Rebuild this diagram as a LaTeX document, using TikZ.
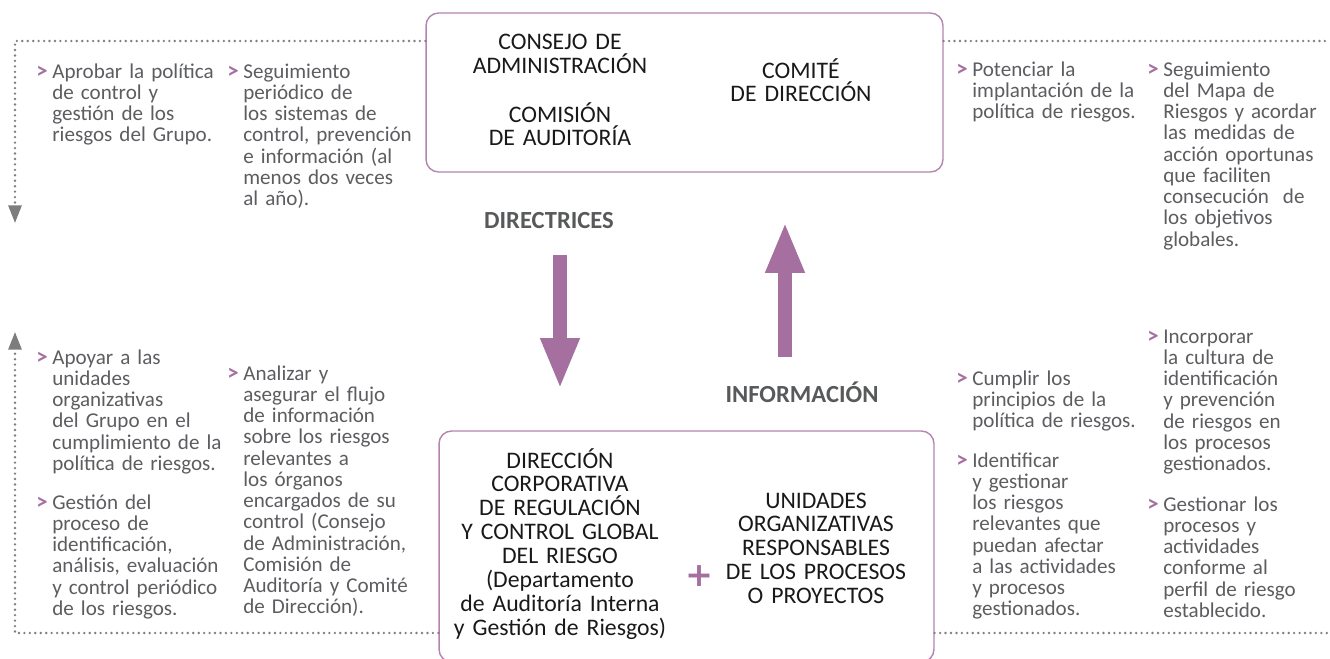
\documentclass[tikz,border=0pt]{standalone}
\usepackage{fontspec}
\setmainfont[WordSpace=0.8]{Carlito}
\newfontfamily\simbolo{DejaVu Sans}
\usetikzlibrary{arrows.meta}

\definecolor{lila}{RGB}{165,112,160}
\definecolor{lilaclaro}{RGB}{178,132,175}
\definecolor{gristxt}{RGB}{92,93,96}
\definecolor{grisetq}{RGB}{88,89,91}
\definecolor{grispunto}{RGB}{125,125,128}
\definecolor{negro}{RGB}{25,25,25}

\newcommand\vineta{\leavevmode\llap{\textcolor{lila}{\bfseries\fontsize{13}{10}\selectfont >}\hspace{2.6pt}}}

\begin{document}
\begin{tikzpicture}[x=0.02cm,y=-0.02cm,
    punteada/.style={draw=grispunto,line width=1.5pt,dash pattern=on 0pt off 3.1pt,line cap=round},
    puntaG/.style={-{Triangle[width=7.4pt,length=10pt]}},
    flechona/.style={draw=lila,line width=0.27cm,-{Triangle[width=0.72cm,length=1.02cm]}},
    etiqueta/.style={anchor=base,inner sep=0pt,text=grisetq,font=\bfseries\fontsize{14}{14}\selectfont}]
\useasboundingbox (0,0) rectangle (1330,659);

% cajas
\begin{scope}[every node/.style={draw=lilaclaro,line width=0.8pt,rounded corners=0.25cm,inner sep=0pt}]
    \node[minimum width=10.34cm,minimum height=3.18cm] (consejo) at (684.5,92.5) {};
    \node[minimum width=9.9cm,minimum height=4.62cm] (unidades) at (686.5,546.5) {};
\end{scope}

\begin{scope}[every node/.style={anchor=base,align=center,text width=5cm,inner sep=0pt,text=negro,font=\fontsize{13.5}{13.6}\selectfont}]
    \node (ca) at (560,50) {CONSEJO DE\\ADMINISTRACIÓN};
    \node (cau) at (560,122) {COMISIÓN\\DE AUDITORÍA};
    \node (cd) at (801,78) {COMITÉ\\DE DIRECCIÓN};
    \node (dc) at (560,468) {DIRECCIÓN\\CORPORATIVA\\DE REGULACIÓN\\Y CONTROL GLOBAL\\DEL RIESGO\\(Departamento\\de Auditoría Interna\\y Gestión de Riesgos)};
    \node (uo) at (816,508) {UNIDADES\\ORGANIZATIVAS\\RESPONSABLES\\DE LOS PROCESOS\\O PROYECTOS};
\end{scope}

\node[text=lila,inner sep=0pt,font=\simbolo\bfseries\fontsize{19}{19}\selectfont] (mas) at (699,576) {+};

% textos
\begin{scope}[every node/.style={anchor=base west,align=left,text width=4cm,inner sep=0pt,text=gristxt,font=\fontsize{12}{12.1}\selectfont}]
    \node (t1) at (52,78) {\vineta Aprobar la política\\de control y\\gestión de los\\riesgos del Grupo.};
    \node (t2) at (243,78) {\vineta Seguimiento\\periódico de\\los sistemas de\\control, prevención\\e información (al\\menos dos veces\\al año).};
    \node (t3) at (972,76) {\vineta Potenciar la\\implantación de la\\política de riesgos.};
    \node (t4) at (1163,76) {\vineta Seguimiento\\del Mapa de\\Riesgos y acordar\\las medidas de\\acción oportunas\\que faciliten\\consecución\ \ de\\los objetivos\\globales.};
    \node (b1) at (52,364) {\vineta Apoyar a las\\unidades\\organizativas\\del Grupo en el\\cumplimiento de la\\política de riesgos.};
    \node (b2) at (52,509) {\vineta Gestión del\\proceso de\\identificación,\\análisis, evaluación\\y control periódico\\de los riesgos.};
    \node (b3) at (243,380) {\vineta Analizar y\\asegurar el flujo\\de información\\sobre los riesgos\\relevantes a\\los órganos\\encargados de su\\control (Consejo\\de Administración,\\Comisión de\\Auditoría y Comité\\de Dirección).};
    \node (b4) at (972,385) {\vineta Cumplir los\\principios de la\\política de riesgos.};
    \node (b5) at (972,467) {\vineta Identificar\\y gestionar\\los riesgos\\relevantes que\\puedan afectar\\a las actividades\\y procesos\\gestionados.};
    \node (b6) at (1163,343) {\vineta Incorporar\\la cultura de\\identificación\\y prevención\\de riesgos en\\los procesos\\gestionados.};
    \node (b7) at (1163,511) {\vineta Gestionar los\\procesos y\\actividades\\conforme al\\perfil de riesgo\\establecido.};
\end{scope}

% flechas
\node[etiqueta] (dir) at (549,228) {DIRECTRICES};
\node[etiqueta] (inf) at (802,402) {INFORMACIÓN};
\coordinate (d1) at (560,255);
\coordinate (d2) at (560,389);
\coordinate (u1) at (785,357);
\coordinate (u2) at (785,222);
\draw[flechona] (d1) -- (d2);
\draw[flechona] (u1) -- (u2);

% lineas punteadas
\coordinate (esqA) at (15,41);
\coordinate (finA) at (15,223);
\coordinate (esqB) at (15,633);
\coordinate (finB) at (15,332);
\draw[punteada,puntaG] (consejo.west |- esqA) -- (esqA) -- (finA);
\draw[punteada] (consejo.east |- esqA) -- (1330,41);
\draw[punteada,puntaG] (unidades.west |- esqB) -- (esqB) -- (finB);
\draw[punteada] (unidades.east |- esqB) -- (1330,633);
\end{tikzpicture}
\end{document}
